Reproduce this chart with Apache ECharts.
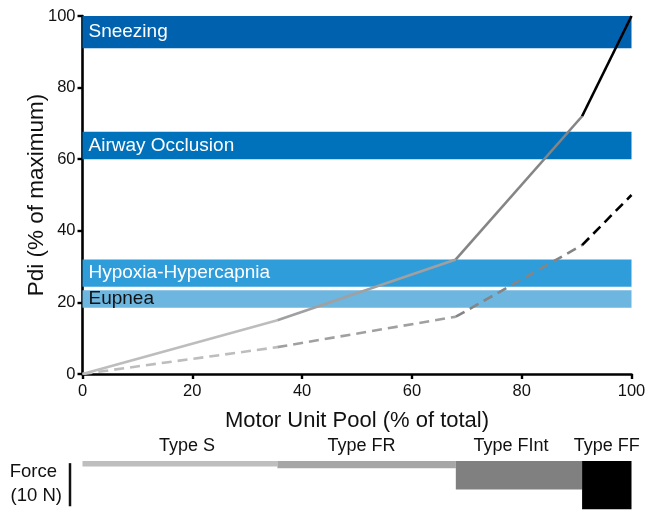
<!DOCTYPE html>
<html>
<head>
<meta charset="utf-8">
<script src="https://cdn.jsdelivr.net/npm/echarts@6/dist/echarts.min.js"></script>
<style>html,body{margin:0;padding:0;background:#fff}#c{width:652px;height:514px}</style>
</head>
<body>
<div id="c"></div>
<script>
// ---- data ----
var poolBreaks = [0, 35.5, 68, 91, 100];          // motor unit pool (% of total)
var pdiSolid   = [0, 15, 32, 72, 100];            // Pdi (% max), solid curve
var pdiDashed  = [0, 7.5, 16, 36, 50];            // Pdi (% max), dashed curve
var bandNames  = ['Sneezing', 'Airway Occlusion', 'Hypoxia-Hypercapnia', 'Eupnea'];
var bandLow    = [91, 60, 24.4, 18.5];
var bandHigh   = [100, 67.7, 32, 23.4];
var typeNames  = ['Type S', 'Type FR', 'Type FInt', 'Type FF'];
var typeForce  = [1.3, 1.7, 6.6, 11.2];           // force (N)
var scaleBarN  = 10;
var xTicks     = [0, 20, 40, 60, 80, 100];
var yTicks     = [0, 20, 40, 60, 80, 100];

// ---- styles ----
var FONT = 'Liberation Sans, Arial, Helvetica, sans-serif';
var segColors  = ['#bdbdbd', '#a0a0a0', '#858585', '#000000'];
var barColors  = ['#bebebe', '#a6a6a6', '#808080', '#000000'];
var bandColors = ['#0062ae', '#0071bb', '#2f9dda', '#6cb6e0'];
var bandText   = ['#ffffff', '#ffffff', '#ffffff', '#111111'];
var typeLabelDx = [7, -5, -8, 0];

var chart = echarts.init(document.getElementById('c'), null, {renderer: 'canvas'});

var series = [];
// bands
series.push({
  type: 'line', xAxisIndex: 0, yAxisIndex: 0, data: [], silent: true, z: 1,
  markArea: {
    silent: true,
    data: bandNames.map(function (n, i) {
      return [{
        name: n, xAxis: 0, yAxis: bandLow[i],
        itemStyle: {color: bandColors[i], opacity: 1},
        label: {show: true, position: 'insideLeft', distance: 6, color: bandText[i],
                fontSize: 19, fontFamily: FONT}
      }, {xAxis: 100, yAxis: bandHigh[i]}];
    })
  }
});
// curve segments
function addCurve(vals, dashed) {
  for (var i = 0; i < poolBreaks.length - 1; i++) {
    series.push({
      type: 'line', xAxisIndex: 0, yAxisIndex: 0, z: 5,
      symbol: 'none', silent: true, animation: false,
      data: [[poolBreaks[i], vals[i]], [poolBreaks[i + 1], vals[i + 1]]],
      lineStyle: {color: segColors[i], width: 2.6, type: dashed ? [10, 6] : 'solid', cap: 'butt'}
    });
  }
}
addCurve(pdiSolid, false);
addCurve(pdiDashed, true);

// force bars
var barData = typeNames.map(function (n, i) {
  return [poolBreaks[i], poolBreaks[i + 1], typeForce[i], i];
});
series.push({
  type: 'custom', xAxisIndex: 1, yAxisIndex: 1, silent: true, animation: false, clip: false,
  data: barData,
  renderItem: function (params, api) {
    var i = api.value(3);
    var p0 = api.coord([api.value(0), 0]);
    var p1 = api.coord([api.value(1), api.value(2)]);
    var cx = (p0[0] + p1[0]) / 2 + typeLabelDx[i];
    return {
      type: 'group',
      children: [
        {type: 'rect', shape: {x: p0[0], y: p0[1], width: p1[0] - p0[0], height: p1[1] - p0[1]},
         style: {fill: barColors[i]}},
        {type: 'text', x: cx, y: p0[1] - 15,
         style: {text: typeNames[i], fill: '#111', font: '18px ' + FONT, align: 'center', verticalAlign: 'middle'}}
      ]
    };
  }
});
// scale bar
series.push({
  type: 'custom', xAxisIndex: 1, yAxisIndex: 1, silent: true, animation: false, clip: false,
  data: [[scaleBarN]],
  renderItem: function (params, api) {
    var a = api.coord([0, 0.5]);
    var b = api.coord([0, 0.5 + api.value(0)]);
    var x = a[0] - 12.5;
    return {type: 'line', shape: {x1: x, y1: a[1], x2: x, y2: b[1]},
            style: {stroke: '#111', lineWidth: 2.5}};
  }
});

chart.setOption({
  animation: false,
  backgroundColor: '#fff',
  textStyle: {fontFamily: FONT},
  grid: [
    {left: 82.5, right: 20.5, top: 16, height: 358},
    {left: 82.5, right: 20.5, top: 461, height: 50}
  ],
  xAxis: [{
    gridIndex: 0, type: 'value', min: 0, max: 100, interval: 20,
    name: 'Motor Unit Pool (% of total)', nameLocation: 'middle', nameGap: 36, nameMoveOverlap: false,
    nameTextStyle: {fontSize: 22, color: '#111', fontFamily: FONT},
    axisLine: {show: true, onZero: false, lineStyle: {color: '#000', width: 2.6}},
    axisTick: {show: true, length: 5, lineStyle: {color: '#000', width: 2.4}},
    axisLabel: {fontSize: 16.5, color: '#111', margin: 9, fontFamily: FONT},
    splitLine: {show: false}
  }, {
    gridIndex: 1, type: 'value', min: 0, max: 100, show: false
  }],
  yAxis: [{
    gridIndex: 0, type: 'value', min: 0, max: 100, interval: 20,
    name: 'Pdi (% of maximum)', nameLocation: 'middle', nameGap: 34, nameRotate: 90, nameMoveOverlap: false,
    nameTextStyle: {fontSize: 22.5, color: '#111', fontFamily: FONT},
    axisLine: {show: true, onZero: false, lineStyle: {color: '#000', width: 2.6}},
    axisTick: {show: true, length: 5, lineStyle: {color: '#000', width: 2.4}},
    axisLabel: {fontSize: 16.5, color: '#111', margin: 7, fontFamily: FONT},
    splitLine: {show: false}
  }, {
    gridIndex: 1, type: 'value', min: 0, max: 11.6, inverse: true, show: false
  }],
  graphic: [
    {type: 'text', right: 652 - 57, top: 462, style: {text: 'Force', fill: '#111', font: '18.5px ' + FONT, align: 'right'}},
    {type: 'text', right: 652 - 62, top: 486, style: {text: '(10 N)', fill: '#111', font: '18.5px ' + FONT, align: 'right'}}
  ],
  series: series
});
</script>
</body>
</html>
